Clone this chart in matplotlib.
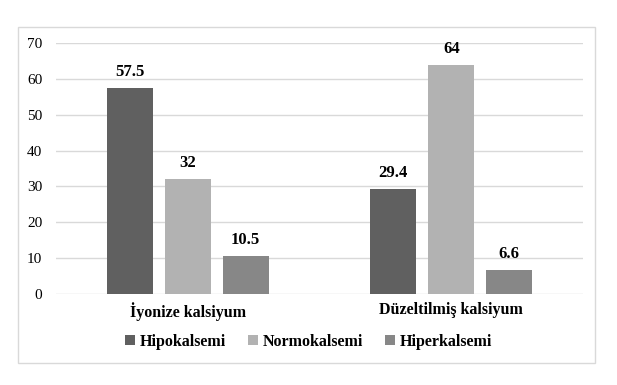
import matplotlib.pyplot as plt
import matplotlib.patches as mpatches
import numpy as np

categories = ["İyonize kalsiyum", "Düzeltilmiş kalsiyum"]
series = ["Hipokalsemi", "Normokalsemi", "Hiperkalsemi"]
hipo = [57.5, 29.4]
normo = [32, 64]
hiper = [10.5, 6.6]
values = [hipo, normo, hiper]
labels = [["57.5", "29.4"], ["32", "64"], ["10.5", "6.6"]]
colors = ["#606060", "#b2b2b2", "#878787"]

plt.rcParams["font.family"] = ["Liberation Serif", "DejaVu Serif"]

fig = plt.figure(figsize=(6.17, 3.85), dpi=100)
ax = fig.add_axes([0.0908, 0.2364, 0.8541, 0.6519])

# outer chart border
fig.patches.append(mpatches.Rectangle((18 / 617, 1 - 363 / 385), 577 / 617, 336 / 385,
                                      transform=fig.transFigure, fill=False,
                                      edgecolor="#d9d9d9", linewidth=1))

x = np.arange(len(categories))
offsets = [-0.22, 0, 0.22]
for i in range(3):
    bars = ax.bar(x + offsets[i], values[i], width=0.175, color=colors[i], label=series[i], zorder=3)
    for b, lab in zip(bars, labels[i]):
        ax.text(b.get_x() + b.get_width() / 2, b.get_height() + 2.2, lab,
                ha="center", va="bottom", fontsize=12, fontweight="bold")

ax.set_xlim(-0.5, 1.5)
ax.set_ylim(0, 70)
ax.set_yticks(range(0, 71, 10))
ax.set_xticks(x)
ax.set_xticklabels(categories, fontsize=11.5, fontweight="bold")
ax.tick_params(axis="y", labelsize=11, length=0, pad=10)
ax.tick_params(axis="x", length=0, pad=6)
ax.grid(axis="y", color="#d9d9d9", linewidth=1, zorder=0)
for s in ax.spines.values():
    s.set_visible(False)

fig.legend(loc="center", bbox_to_anchor=(0.5, 1 - 342 / 385), ncol=3, frameon=False,
           handlelength=0.6, handleheight=0.6, handletextpad=0.3, columnspacing=1.4,
           prop={"size": 11.5, "weight": "bold"})

fig.savefig("out.png", dpi=100)
